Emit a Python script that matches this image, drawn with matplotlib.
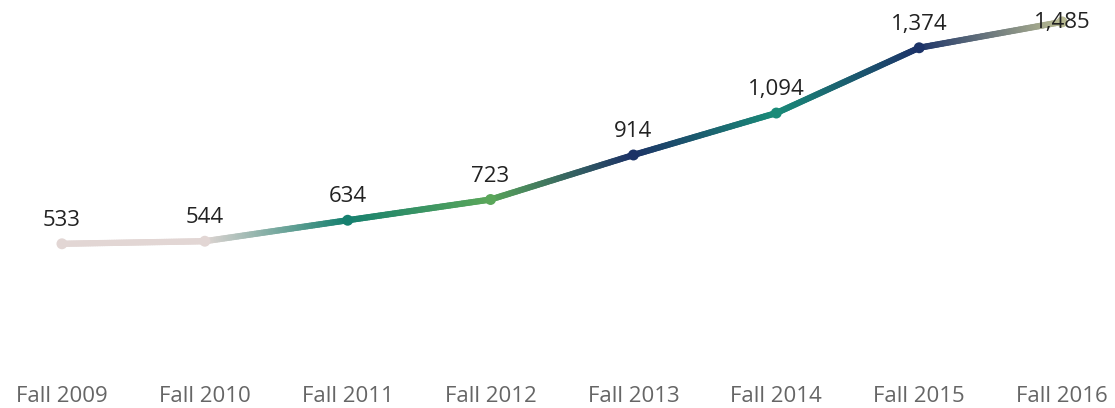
import numpy as np
import matplotlib
matplotlib.use("Agg")
import matplotlib.pyplot as plt
from matplotlib.collections import LineCollection
from matplotlib.colors import to_rgb

categories = ["Fall 2009", "Fall 2010", "Fall 2011", "Fall 2012",
              "Fall 2013", "Fall 2014", "Fall 2015", "Fall 2016"]
values = [533, 544, 634, 723, 914, 1094, 1374, 1485]
labels = ["533", "544", "634", "723", "914", "1,094", "1,374", "1,485"]

point_colors = ["#e2d6d4", "#e2d6d4", "#16806f", "#5aa65a",
                "#1c3266", "#1a8b78", "#1c3368", "#b8ba92"]

plt.rcParams['font.family'] = ['Open Sans', 'DejaVu Sans']

fig = plt.figure(figsize=(11.15, 4.08), dpi=100)
ax = fig.add_axes([0, 0.098, 1, 0.902])

x = np.arange(len(values))
segs = []
cols = []
n = 60
for i in range(len(values) - 1):
    c0 = np.array(to_rgb(point_colors[i]))
    c1 = np.array(to_rgb(point_colors[i + 1]))
    for k in range(n):
        t0, t1 = k / n, (k + 1) / n
        xa = x[i] + (x[i + 1] - x[i]) * t0
        xb = x[i] + (x[i + 1] - x[i]) * t1
        ya = values[i] + (values[i + 1] - values[i]) * t0
        yb = values[i] + (values[i + 1] - values[i]) * t1
        segs.append([(xa, ya), (xb, yb)])
        cols.append(c0 + (c1 - c0) * (t0 + t1) / 2)
lc = LineCollection(segs, colors=cols, linewidths=4.5, capstyle='round')
ax.add_collection(lc)

ax.scatter(x, values, s=62, c=point_colors, zorder=3, linewidths=0)

for i, (v, lab) in enumerate(zip(values, labels)):
    if i == len(values) - 1:
        ax.text(x[i], v - 26, lab, ha='center', va='baseline',
                fontsize=16, color='#222222', zorder=4)
    else:
        ax.text(x[i], v + 77, lab, ha='center', va='baseline',
                fontsize=16, color='#222222', zorder=4)

ax.set_xlim(-62 / 143, 7 + 53 / 143)
ax.set_ylim(0, 1579)
ax.set_xticks(x)
ax.set_xticklabels(categories, fontsize=16, color='#666666')
ax.tick_params(axis='x', length=0, pad=13)
ax.set_yticks([])
for s in ax.spines.values():
    s.set_visible(False)

fig.savefig("out.png", dpi=100)
